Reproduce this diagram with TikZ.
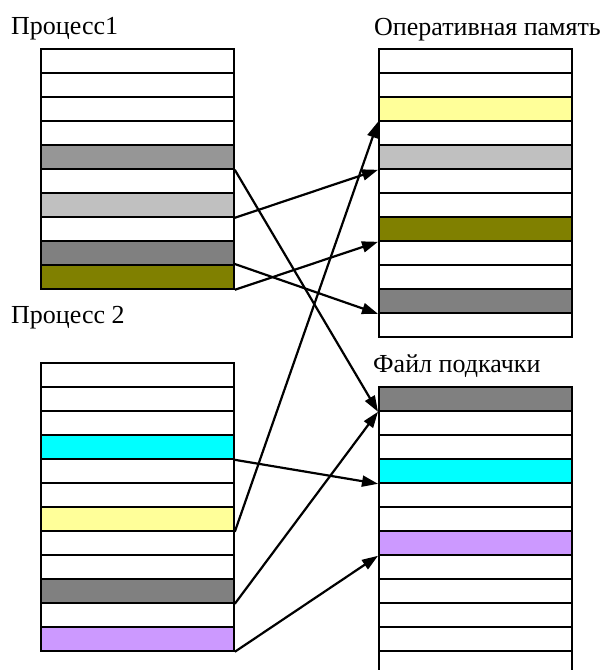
\documentclass[tikz,border=0pt]{standalone}
\usepackage{fontspec}
\setmainfont{Liberation Serif}
\usetikzlibrary{arrows.meta}
\definecolor{gA}{HTML}{969696}
\definecolor{gL}{HTML}{C0C0C0}
\definecolor{gM}{HTML}{808080}
\definecolor{olv}{HTML}{808000}
\definecolor{ylw}{HTML}{FFFF99}
\definecolor{cyn}{HTML}{00FFFF}
\definecolor{prp}{HTML}{CC99FF}
\begin{document}
\begin{tikzpicture}[x=1pt,y=-1pt,
  cell/.style={draw=black,line width=1.8pt,minimum width=193pt,minimum height=24pt,inner sep=0pt,anchor=north west},
  lbl/.style={anchor=base west,inner sep=0pt,font=\fontsize{26}{30}\selectfont},
  link/.style={line width=2.2pt,-{Triangle[length=16pt,width=11pt]}}]
\useasboundingbox (0,0) rectangle (608,670);
% Process 1
\foreach \c [count=\i] in {white,white,white,white,gA,white,gL,white,gM,olv}
  \node[cell,fill=\c] (p1-\i) at (40,{48+24*(\i-1)}) {};
% Process 2
\foreach \c [count=\i] in {white,white,white,cyn,white,white,ylw,white,white,gM,white,prp}
  \node[cell,fill=\c] (p2-\i) at (40,{362+24*(\i-1)}) {};
% RAM
\foreach \c [count=\i] in {white,white,ylw,white,gL,white,white,olv,white,white,gM,white}
  \node[cell,fill=\c] (ram-\i) at (378,{48+24*(\i-1)}) {};
% Swap file
\foreach \c [count=\i] in {gM,white,white,cyn,white,white,prp,white,white,white,white,white}
  \node[cell,fill=\c] (sw-\i) at (378,{386+24*(\i-1)}) {};
% Labels
\node[lbl] (t1) at (11,34) {Процесс1};
\node[lbl] (t2) at (11,323) {Процесс 2};
\node[lbl] (t3) at (374,35) {Оперативная память};
\node[lbl] (t4) at (373,372) {Файл подкачки};
% Arrows
\draw[link] (p1-5.south east) -- (sw-1.south west);
\draw[link] (p1-7.south east) -- (ram-5.south west);
\draw[link] (p1-10.north east) -- (ram-11.south west);
\draw[link] (p1-10.south east) -- (ram-8.south west);
\draw[link] (p2-7.south east) -- (ram-3.south west);
\draw[link] (p2-4.south east) -- (sw-4.south west);
\draw[link] (p2-10.south east) -- (sw-1.south west);
\draw[link] (p2-12.south east) -- (sw-7.south west);
\end{tikzpicture}
\end{document}
